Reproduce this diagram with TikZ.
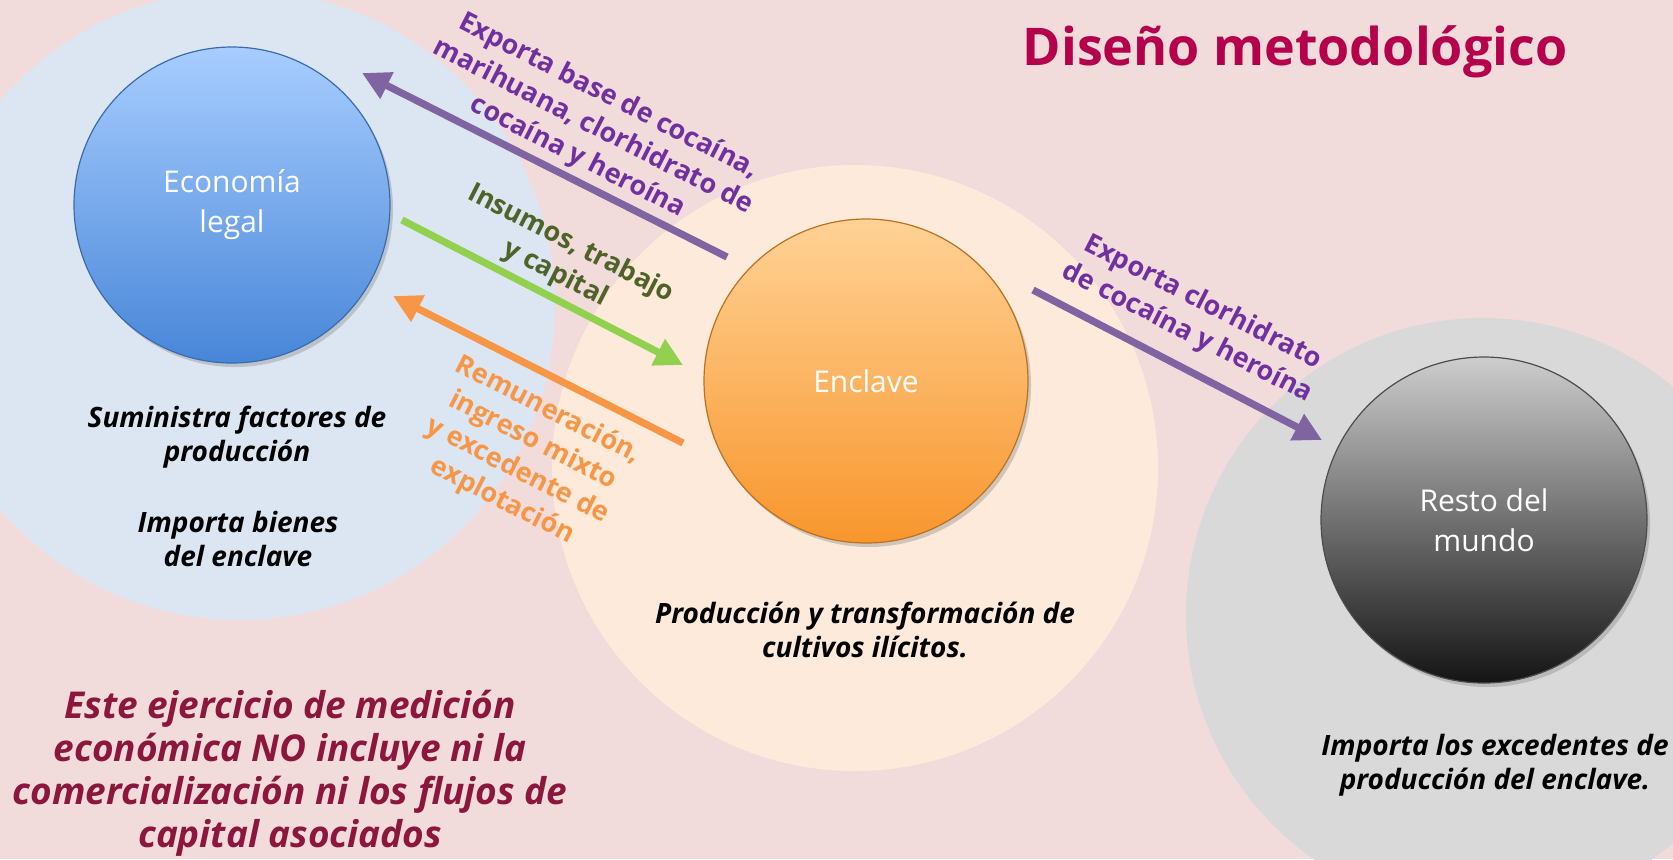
\documentclass[tikz,border=0pt]{standalone}
\usepackage{fontspec}
\setmainfont{Open Sans}
\usetikzlibrary{arrows.meta,shadows}
\definecolor{bgpink}{RGB}{242,220,219}
\definecolor{bgblue}{RGB}{220,230,242}
\definecolor{bgpeach}{RGB}{253,234,218}
\definecolor{bggrey}{RGB}{217,217,217}
\definecolor{arrpurple}{RGB}{128,100,162}
\definecolor{txtpurple}{RGB}{112,48,160}
\definecolor{arrgreen}{RGB}{146,208,80}
\definecolor{txtgreen}{RGB}{79,98,40}
\definecolor{arrorange}{RGB}{247,150,70}
\definecolor{titlered}{RGB}{181,0,76}
\definecolor{notered}{RGB}{140,22,62}
\definecolor{bluetop}{RGB}{168,205,255}
\definecolor{bluebot}{RGB}{72,134,216}
\definecolor{orangetop}{RGB}{255,210,150}
\definecolor{orangebot}{RGB}{248,150,45}
\definecolor{greytop}{RGB}{205,205,205}
\definecolor{greybot}{RGB}{20,20,20}
\begin{document}
\begin{tikzpicture}[x=0.5pt,y=-0.5pt,
  sphere/.style={circle, inner sep=0pt, text=white, align=center,
    font=\fontsize{15}{20}\selectfont,
    drop shadow={opacity=0.35, shadow xshift=1.5pt, shadow yshift=-2pt}},
  flow/.style={line width=3.6pt, -{Triangle[length=14pt,width=14pt]}},
  lbl/.style={align=center, inner sep=0pt, rotate=-27,
    font=\bfseries\fontsize{13.5}{17}\selectfont},
  desc/.style={align=center, inner sep=0pt,
    font=\bfseries\itshape\fontsize{14}{17}\selectfont},
  ]
\useasboundingbox (0,0) rectangle (1673,859);
\clip (0,0) rectangle (1673,859);
\fill[bgpink] (0,0) rectangle (1673,859);
% background discs
\fill[bgblue] (240,305) circle[radius=157.5pt];
\fill[bgpeach] (855,468) circle[radius=151.5pt];
\fill[bggrey] (1483,615) circle[radius=148.5pt];
% title
\node[anchor=base, text=titlered, font=\bfseries\fontsize{26}{30}\selectfont, inner sep=0pt] (title) at (1295,65) {Diseño metodológico};
% spheres
\node[sphere, minimum size=158pt, top color=bluetop, bottom color=bluebot, draw=bluebot!80!black, line width=0.6pt] (legal) at (232,205) {Economía\\legal};
\node[sphere, minimum size=162pt, top color=orangetop, bottom color=orangebot, draw=orangebot!75!black, line width=0.6pt] (enclave) at (866,381) {Enclave};
\node[sphere, minimum size=163pt, top color=greytop, bottom color=greybot, draw=black!70, line width=0.6pt] (mundo) at (1484,520) {Resto del\\mundo};
% arrow end points
\coordinate (a1s) at (727,257);
\coordinate (a1e) at (362,73);
\coordinate (a2s) at (402,220);
\coordinate (a2e) at (683,365);
\coordinate (a3s) at (683,443);
\coordinate (a3e) at (393,296);
\coordinate (a4s) at (1033,290);
\coordinate (a4e) at (1322,440);
\draw[flow, arrpurple] (a1s) -- (a1e);
\draw[flow, arrgreen] (a2s) -- (a2e);
\draw[flow, arrorange] (a3s) -- (a3e);
\draw[flow, arrpurple] (a4s) -- (a4e);
% arrow labels
\node[lbl, text=txtpurple] (l1) at (593,127) {Exporta base de cocaína,\\marihuana, clorhidrato de\\cocaína y heroína};
\node[lbl, text=txtgreen] (l2) at (563,259) {Insumos, trabajo\\y capital};
\node[lbl, text=arrorange] (l3) at (525,456) {Remuneración,\\ingreso mixto\\y excedente de\\explotación};
\node[lbl, text=txtpurple] (l4) at (1195,318) {Exporta clorhidrato\\de cocaína y heroína};
% descriptions
\node[desc] (d1) at (237,437) {Suministra factores de\\producción};
\node[desc] (d2) at (238,539) {Importa bienes\\del enclave};
\node[desc] (d3) at (865,630) {Producción y transformación de\\cultivos ilícitos.};
\node[desc] (d4) at (1495,765) {Importa los excedentes de\\producción del enclave.};
\node[desc, text=notered, font=\bfseries\itshape\fontsize{18.5}{21.5}\selectfont] (note) at (290,773) {Este ejercicio de medición\\económica NO incluye ni la\\comercialización ni los flujos de\\capital asociados};
\end{tikzpicture}
\end{document}
